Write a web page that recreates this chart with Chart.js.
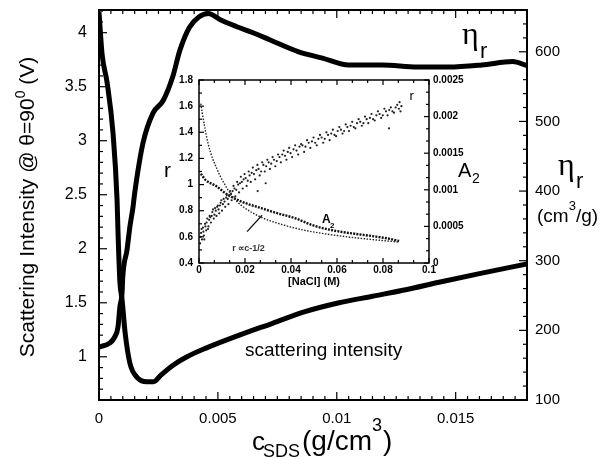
<!DOCTYPE html>
<html>
<head>
<meta charset="utf-8">
<script src="https://cdn.jsdelivr.net/npm/chart.js@4/dist/chart.umd.min.js"></script>
<style>
html, body { margin: 0; padding: 0; background: #fff; }
#wrap { position: relative; width: 603px; height: 459px; overflow: hidden; }
#main { position: absolute; left: 0; top: 0; }
#inset { position: absolute; left: 150px; top: 60px; }
</style>
</head>
<body>
<div id="wrap">
<canvas id="main" width="603" height="459"></canvas>
<canvas id="inset" width="330" height="240"></canvas>
</div>
<script>
// main plot: c_SDS (g/cm3)
var intensityX = [0, 0.00013, 0.00034, 0.00059, 0.00076, 0.0008, 0.00088, 0.00097, 0.0011, 0.0013, 0.0016, 0.002, 0.0023, 0.0026, 0.0031, 0.0037, 0.0045, 0.0059, 0.0073, 0.0087, 0.0101, 0.0115, 0.0129, 0.0143, 0.016, 0.018];
var intensityY = [4.19, 3.80, 3.54, 3.07, 2.45, 2.15, 1.69, 1.53, 1.22, 0.94, 0.81, 0.77, 0.77, 0.83, 0.92, 1.00, 1.08, 1.20, 1.31, 1.42, 1.50, 1.56, 1.62, 1.69, 1.77, 1.86];

var etaX = [0, 0.00046, 0.00067, 0.0008, 0.00088, 0.00097, 0.001, 0.00118, 0.0013, 0.00143, 0.0015, 0.00185, 0.00227, 0.0027, 0.0031, 0.0034, 0.0038, 0.0042, 0.0046, 0.0051, 0.0058, 0.0065, 0.0072, 0.0084, 0.0094, 0.0105, 0.0119, 0.0134, 0.0147, 0.0161, 0.0174, 0.018];
var etaY = [176, 182, 191, 205, 234, 254, 277, 316, 349, 377, 397, 469, 512, 530, 564, 602, 635, 650, 655, 646, 636, 627, 617, 600, 591, 581, 581, 578, 578, 581, 586, 580];

var xTicks = [0, 0.005, 0.01, 0.015];
var yTicks = [1, 1.5, 2, 2.5, 3, 3.5, 4];
var y2Ticks = [100, 200, 300, 400, 500, 600];

// inset: [NaCl] (M)
var rX = [0.0005, 0.0009, 0.0013, 0.0017, 0.0021, 0.0026, 0.0031, 0.0036, 0.0041, 0.0046, 0.0052, 0.0058, 0.0064, 0.0070, 0.0076, 0.0082, 0.0088, 0.0094, 0.0100, 0.0107, 0.0114, 0.0121, 0.0128, 0.0135, 0.0142, 0.0150, 0.0158, 0.0166, 0.0174, 0.0182, 0.0190, 0.0198, 0.0207, 0.0216, 0.0225, 0.0234, 0.0244, 0.0254, 0.0255, 0.0264, 0.0275, 0.0286, 0.0290, 0.0297, 0.0308, 0.0320, 0.0332, 0.0344, 0.0356, 0.0368, 0.0380, 0.0392, 0.0405, 0.0418, 0.0431, 0.0444, 0.0457, 0.0470, 0.0484, 0.0498, 0.0512, 0.0526, 0.0540, 0.0554, 0.0568, 0.0582, 0.0596, 0.0610, 0.0624, 0.0638, 0.0652, 0.0666, 0.0680, 0.0694, 0.0708, 0.0722, 0.0736, 0.0750, 0.0764, 0.0778, 0.0792, 0.0806, 0.0820, 0.0826, 0.0834, 0.0848, 0.0862, 0.0876,
	0.0007, 0.0011, 0.0019, 0.0023, 0.0028, 0.0033, 0.0039, 0.0044, 0.0049, 0.0055, 0.0061, 0.0067, 0.0073, 0.0079, 0.0085, 0.0091, 0.0097, 0.0104, 0.0111, 0.0118, 0.0125, 0.0132, 0.0139, 0.0146, 0.0154, 0.0162, 0.0170, 0.0178, 0.0186, 0.0194, 0.0203, 0.0212, 0.0220, 0.0229, 0.0239, 0.0249, 0.0259, 0.0270, 0.0280, 0.0292, 0.0303, 0.0314, 0.0326, 0.0338, 0.0350, 0.0362, 0.0374, 0.0386, 0.0398, 0.0411, 0.0424, 0.0437, 0.0450, 0.0463, 0.0477, 0.0491, 0.0505, 0.0519, 0.0533, 0.0547, 0.0561, 0.0575, 0.0589, 0.0603, 0.0617, 0.0631, 0.0645, 0.0659, 0.0673, 0.0687, 0.0701, 0.0715, 0.0729, 0.0743, 0.0757, 0.0771, 0.0785, 0.0799, 0.0813, 0.0827, 0.0841, 0.0855, 0.0869, 0.0872, 0.0880];
var rY = [0.55, 0.63, 0.58, 0.67, 0.61, 0.70, 0.65, 0.74, 0.68, 0.76, 0.71, 0.79, 0.74, 0.82, 0.76, 0.84, 0.78, 0.86, 0.80, 0.89, 0.83, 0.92, 0.85, 0.95, 0.88, 0.99, 0.91, 1.02, 0.94, 1.06, 0.97, 1.08, 0.99, 1.10, 1.02, 1.13, 1.04, 1.15, 0.95, 1.07, 1.17, 1.10, 1.01, 1.19, 1.12, 1.21, 1.14, 1.23, 1.17, 1.26, 1.19, 1.28, 1.21, 1.30, 1.23, 1.31, 1.25, 1.34, 1.28, 1.36, 1.30, 1.38, 1.32, 1.40, 1.34, 1.42, 1.37, 1.44, 1.39, 1.46, 1.41, 1.48, 1.43, 1.50, 1.45, 1.52, 1.47, 1.54, 1.49, 1.56, 1.51, 1.58, 1.53, 1.43, 1.59, 1.55, 1.61, 1.56,
	0.60, 0.66, 0.64, 0.58, 0.68, 0.71, 0.66, 0.73, 0.75, 0.76, 0.81, 0.77, 0.80, 0.83, 0.81, 0.84, 0.88, 0.85, 0.87, 0.90, 0.89, 0.92, 0.93, 0.95, 0.97, 0.96, 1.00, 1.01, 1.02, 1.04, 1.05, 1.03, 1.07, 1.09, 1.08, 1.11, 1.12, 1.10, 1.15, 1.14, 1.17, 1.16, 1.19, 1.18, 1.21, 1.23, 1.22, 1.25, 1.24, 1.27, 1.26, 1.29, 1.30, 1.29, 1.32, 1.33, 1.32, 1.35, 1.36, 1.35, 1.38, 1.39, 1.38, 1.41, 1.42, 1.41, 1.44, 1.45, 1.44, 1.47, 1.48, 1.47, 1.50, 1.51, 1.50, 1.53, 1.54, 1.53, 1.56, 1.57, 1.56, 1.59, 1.58, 1.63, 1.60];

var fitX = [0.0008, 0.0013, 0.004, 0.0078, 0.0126, 0.016, 0.020, 0.027, 0.035, 0.046, 0.060, 0.075, 0.087];
var fitR = [1.62, 1.56, 1.31, 1.12, 0.96, 0.88, 0.82, 0.75, 0.70, 0.65, 0.61, 0.58, 0.56];

var a2X = [0.0008, 0.003, 0.007, 0.0126, 0.017, 0.020, 0.027, 0.034, 0.042, 0.049, 0.056, 0.063, 0.070, 0.077, 0.083, 0.087];
var a2Y = [0.00122, 0.00113, 0.00106, 0.00093, 0.00086, 0.00082, 0.00075, 0.00068, 0.00061, 0.00052, 0.00046, 0.00042, 0.00039, 0.00036, 0.00033, 0.00030];

var insetXTicks = [0, 0.02, 0.04, 0.06, 0.08, 0.1];
var insetRTicks = [0.4, 0.6, 0.8, 1, 1.2, 1.4, 1.6, 1.8];
var insetA2Ticks = [0, 0.0005, 0.001, 0.0015, 0.002, 0.0025];

var SANS = '"Liberation Sans", Arial, sans-serif';
var NARROW = '"Liberation Sans Narrow", "Liberation Sans", Arial, sans-serif';

function pts(xs, ys) {
	return xs.map(function(x, i) { return { x: x, y: ys[i] }; });
}

function fixTicks(list) {
	return function(s) { s.ticks = list.map(function(v) { return { value: v }; }); };
}

// fixed box size, no extra label padding from the layout
function boxSize(w, h) {
	return function(s) {
		if (w !== null) s.width = w;
		if (h !== null) s.height = h;
		s.paddingTop = 0; s.paddingBottom = 0; s.paddingLeft = 0; s.paddingRight = 0;
	};
}

// inward tick marks + frame
function drawTicks(chart, specs, frameWidth, majorLen, minorLen) {
	var c = chart.ctx, a = chart.chartArea;
	c.save();
	c.strokeStyle = '#000';
	c.lineWidth = frameWidth;
	c.strokeRect(a.left, a.top, a.right - a.left, a.bottom - a.top);
	c.lineWidth = 1.2;
	specs.forEach(function(t) {
		var s = chart.scales[t.id];
		var n = Math.round((t.max - t.min) / t.step);
		for (var i = 0; i <= n; i++) {
			var v = t.min + i * t.step;
			var q = v / t.major;
			var len = Math.abs(q - Math.round(q)) < 1e-6 ? majorLen : minorLen;
			var p = s.getPixelForValue(v);
			c.beginPath();
			t.sides.forEach(function(side) {
				if (side === 'bottom') { c.moveTo(p, a.bottom); c.lineTo(p, a.bottom - len); }
				if (side === 'top') { c.moveTo(p, a.top); c.lineTo(p, a.top + len); }
				if (side === 'left') { c.moveTo(a.left, p); c.lineTo(a.left + len, p); }
				if (side === 'right') { c.moveTo(a.right, p); c.lineTo(a.right - len, p); }
			});
			c.stroke();
		}
	});
	c.restore();
}

var mainTicks = {
	id: 'mainTicks',
	afterDraw: function(chart) {
		drawTicks(chart, [
			{ id: 'x', min: 0, max: 0.018, step: 0.0005, major: 0.005, sides: ['bottom', 'top'] },
			{ id: 'y', min: 0.7, max: 4.2, step: 0.1, major: 0.5, sides: ['left'] },
			{ id: 'y2', min: 100, max: 660, step: 20, major: 100, sides: ['right'] }
		], 2, 8, 4);
	}
};

var mainLabels = {
	id: 'mainLabels',
	afterDraw: function(chart) {
		var c = chart.ctx;
		c.save();
		c.fillStyle = '#000';
		c.textBaseline = 'alphabetic';

		// left axis title
		c.save();
		c.translate(34, 207);
		c.rotate(-Math.PI / 2);
		c.font = '21px ' + SANS;
		var p1 = 'Scattering Intensity @ \u03b8=90', p3 = ' (V)';
		var w1 = c.measureText(p1).width, w3 = c.measureText(p3).width;
		c.font = '14px ' + SANS;
		var w2 = c.measureText('0').width;
		var x0 = -(w1 + w2 + w3) / 2;
		c.font = '21px ' + SANS;
		c.fillText(p1, x0, 0);
		c.fillText(p3, x0 + w1 + w2, 0);
		c.font = '14px ' + SANS;
		c.fillText('0', x0 + w1, -9);
		c.restore();

		// bottom axis title
		c.font = '26px ' + SANS;
		c.fillText('c', 252, 450);
		c.font = '18px ' + SANS;
		c.fillText('SDS', 263, 457);
		c.font = '28px ' + SANS;
		c.fillText('(g/cm', 302, 450);
		var wg = c.measureText('(g/cm').width;
		c.font = '18px ' + SANS;
		c.fillText('3', 302 + wg, 431);
		var w3b = c.measureText('3').width;
		c.font = '28px ' + SANS;
		c.fillText(')', 303 + wg + w3b, 450);

		// eta_r labels
		c.font = '32px "Liberation Serif", "DejaVu Serif", serif';
		c.fillText('\u03b7', 462, 44);
		c.fillText('\u03b7', 558, 175);
		c.font = '22px ' + SANS;
		c.fillText('r', 480, 58);
		c.fillText('r', 576, 188);
		c.font = '19px ' + SANS;
		c.fillText('(cm', 537, 222);
		var wc = c.measureText('(cm').width;
		c.font = '13px ' + SANS;
		c.fillText('3', 537 + wc, 210);
		var w3c = c.measureText('3').width;
		c.font = '19px ' + SANS;
		c.fillText('/g)', 537 + wc + w3c, 222);

		// curve label
		c.font = '19px ' + SANS;
		c.fillText('scattering intensity', 245, 356);

		// inset axis titles (page coordinates)
		c.font = '21px ' + SANS;
		c.fillText('r', 164, 177);
		c.font = '20px ' + SANS;
		c.fillText('A', 458, 177);
		c.font = '14px ' + SANS;
		c.fillText('2', 472, 183);
		c.restore();
	}
};

new Chart(document.getElementById('main'), {
	type: 'scatter',
	data: {
		datasets: [
			{
				label: 'scattering intensity',
				data: pts(intensityX, intensityY),
				yAxisID: 'y',
				showLine: true,
				borderColor: '#000',
				borderWidth: 5,
				pointRadius: 0,
				cubicInterpolationMode: 'monotone'
			},
			{
				label: 'eta_r',
				data: pts(etaX, etaY),
				yAxisID: 'y2',
				showLine: true,
				borderColor: '#000',
				borderWidth: 5,
				pointRadius: 0,
				cubicInterpolationMode: 'monotone'
			}
		]
	},
	options: {
		responsive: false,
		animation: false,
		devicePixelRatio: 1,
		layout: { padding: { top: 10, left: 0, right: 0, bottom: 0 } },
		plugins: { legend: { display: false }, tooltip: { enabled: false } },
		scales: {
			x: {
				type: 'linear', position: 'bottom', min: 0, max: 0.018,
				afterBuildTicks: fixTicks(xTicks),
				afterFit: boxSize(null, 59),
				grid: { display: false, drawTicks: false },
				border: { display: false },
				ticks: { color: '#000', font: { family: SANS, size: 15 }, padding: 10, maxRotation: 0,
					callback: function(v) { return String(v); } }
			},
			y: {
				type: 'linear', position: 'left', min: 0.6, max: 4.21,
				afterBuildTicks: fixTicks(yTicks),
				afterFit: boxSize(99, null),
				grid: { display: false, drawTicks: false },
				border: { display: false },
				ticks: { color: '#000', font: { family: SANS, size: 16 }, padding: 12,
					callback: function(v) { return String(v); } }
			},
			y2: {
				type: 'linear', position: 'right', min: 100, max: 660,
				afterBuildTicks: fixTicks(y2Ticks),
				afterFit: boxSize(76, null),
				grid: { display: false, drawTicks: false },
				border: { display: false },
				ticks: { color: '#000', font: { family: NARROW, size: 15 }, padding: 8,
					callback: function(v) { return String(v); } }
			}
		}
	},
	plugins: [mainTicks, mainLabels]
});

var insetDecor = {
	id: 'insetDecor',
	afterDraw: function(chart) {
		drawTicks(chart, [
			{ id: 'x', min: 0, max: 0.1, step: 0.02 / 3, major: 0.02, sides: ['bottom', 'top'] },
			{ id: 'y', min: 0.4, max: 1.8, step: 0.1, major: 0.2, sides: ['left'] },
			{ id: 'y2', min: 0, max: 0.0025, step: 0.0005 / 3, major: 0.0005, sides: ['right'] }
		], 1.5, 5, 3);
		var c = chart.ctx, sx = chart.scales.x, sy = chart.scales.y;
		c.save();
		c.fillStyle = '#000';
		c.font = 'bold 11px ' + SANS;
		c.textAlign = 'center';
		c.fillText('[NaCl] (M)', (chart.chartArea.left + chart.chartArea.right) / 2, 225);
		c.textAlign = 'left';
		c.font = '13px ' + SANS;
		c.fillText('r', sx.getPixelForValue(0.0915), sy.getPixelForValue(1.65));
		c.font = 'bold 12px ' + SANS;
		c.fillText('A', sx.getPixelForValue(0.0535), sy.getPixelForValue(0.705));
		c.font = 'bold 8px ' + SANS;
		c.fillText('2', sx.getPixelForValue(0.0570), sy.getPixelForValue(0.665));
		c.font = 'bold 9px ' + SANS;
		c.fillStyle = '#333';
		c.fillText('r \u221dc-1/2', sx.getPixelForValue(0.0145), sy.getPixelForValue(0.49));
		c.strokeStyle = '#111';
		c.lineWidth = 1.3;
		c.beginPath();
		c.moveTo(sx.getPixelForValue(0.0209), sy.getPixelForValue(0.64));
		c.lineTo(sx.getPixelForValue(0.0274), sy.getPixelForValue(0.765));
		c.stroke();
		c.restore();
	}
};

new Chart(document.getElementById('inset'), {
	type: 'scatter',
	data: {
		datasets: [
			{
				label: 'r',
				data: pts(rX, rY),
				yAxisID: 'y',
				pointRadius: 1.1,
				pointBackgroundColor: '#222',
				pointBorderWidth: 0
			},
			{
				label: 'r ~ c^-1/2',
				data: pts(fitX, fitR),
				yAxisID: 'y',
				showLine: true,
				borderColor: '#222',
				borderWidth: 1.4,
				borderDash: [1.5, 1.5],
				pointRadius: 0,
				cubicInterpolationMode: 'monotone'
			},
			{
				label: 'A2',
				data: pts(a2X, a2Y),
				yAxisID: 'y2',
				showLine: true,
				borderColor: '#111',
				borderWidth: 2.4,
				borderDash: [2, 1.2],
				pointRadius: 0,
				cubicInterpolationMode: 'monotone'
			}
		]
	},
	options: {
		responsive: false,
		animation: false,
		devicePixelRatio: 1,
		layout: { padding: { top: 20, left: 0, right: 0, bottom: 0 } },
		plugins: { legend: { display: false }, tooltip: { enabled: false } },
		scales: {
			x: {
				type: 'linear', position: 'bottom', min: 0, max: 0.1,
				afterBuildTicks: fixTicks(insetXTicks),
				afterFit: boxSize(null, 37),
				grid: { display: false, drawTicks: false },
				border: { display: false },
				ticks: { color: '#000', font: { family: SANS, size: 10, weight: 'bold' }, padding: 1, maxRotation: 0,
					callback: function(v) { return String(v); } }
			},
			y: {
				type: 'linear', position: 'left', min: 0.4, max: 1.8,
				afterBuildTicks: fixTicks(insetRTicks),
				afterFit: boxSize(49, null),
				grid: { display: false, drawTicks: false },
				border: { display: false },
				ticks: { color: '#000', font: { family: SANS, size: 10, weight: 'bold' }, padding: 6,
					callback: function(v) { return String(v); } }
			},
			y2: {
				type: 'linear', position: 'right', min: 0, max: 0.0025,
				afterBuildTicks: fixTicks(insetA2Ticks),
				afterFit: boxSize(51, null),
				grid: { display: false, drawTicks: false },
				border: { display: false },
				ticks: { color: '#000', font: { family: SANS, size: 10, weight: 'bold' }, padding: 4,
					callback: function(v) { return String(v); } }
			}
		}
	},
	plugins: [insetDecor]
});
</script>
</body>
</html>
